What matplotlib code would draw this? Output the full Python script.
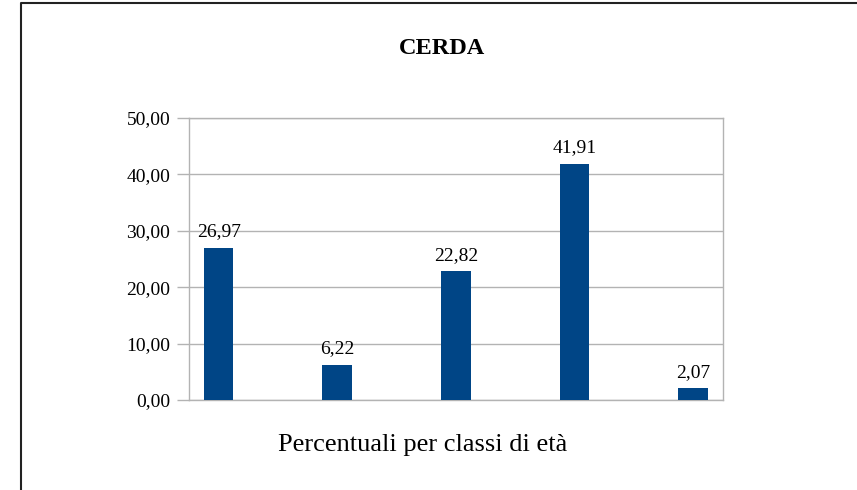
import matplotlib.pyplot as plt
from matplotlib.lines import Line2D

# data
categories = ["0-14", "15-19", "20-39", "40-64", "65+"]
values = [26.97, 6.22, 22.82, 41.91, 2.07]
yticks = [0, 10, 20, 30, 40, 50]
title = "CERDA"
xlabel = "Percentuali per classi di età"

plt.rcParams["font.family"] = ["Liberation Serif", "DejaVu Serif"]


def fmt(v):
    return f"{v:.2f}".replace(".", ",")


fig = plt.figure(figsize=(8.57, 4.9), dpi=100)
ax = fig.add_axes([0.2205, 0.1837, 0.6231, 0.5755])

grid_color = "#b3b3b3"
x = list(range(len(categories)))
bars = ax.bar(x, values, width=0.25, color="#004586", zorder=3)

for rect, v in zip(bars, values):
    ax.annotate(
        fmt(v),
        (rect.get_x() + rect.get_width() / 2, rect.get_height()),
        xytext=(0, 5.5),
        textcoords="offset points",
        ha="center",
        va="bottom",
        fontsize=14,
    )

ax.set_xlim(-0.25, len(categories) - 0.75)
ax.set_ylim(0, 50)
ax.set_yticks(yticks)
ax.set_yticklabels([fmt(t) for t in yticks], fontsize=14)
ax.set_xticks([])
ax.yaxis.grid(True, color=grid_color, linewidth=1, zorder=0)
ax.tick_params(axis="y", length=8.5, color=grid_color, width=1, pad=5)
for spine in ax.spines.values():
    spine.set_color(grid_color)
    spine.set_linewidth(1)

fig.text(0.516, 0.902, title, ha="center", va="center",
         fontsize=17.5, fontweight="bold")
fig.text(0.493, 0.092, xlabel, ha="center", va="center", fontsize=19)

# outer frame (left and top edges only)
fig.add_artist(Line2D([21 / 857, 21 / 857, 1.0], [0.0, 487 / 490, 487 / 490],
                      transform=fig.transFigure, color="#222222", linewidth=1.5))

fig.savefig("out.png", dpi=100)
